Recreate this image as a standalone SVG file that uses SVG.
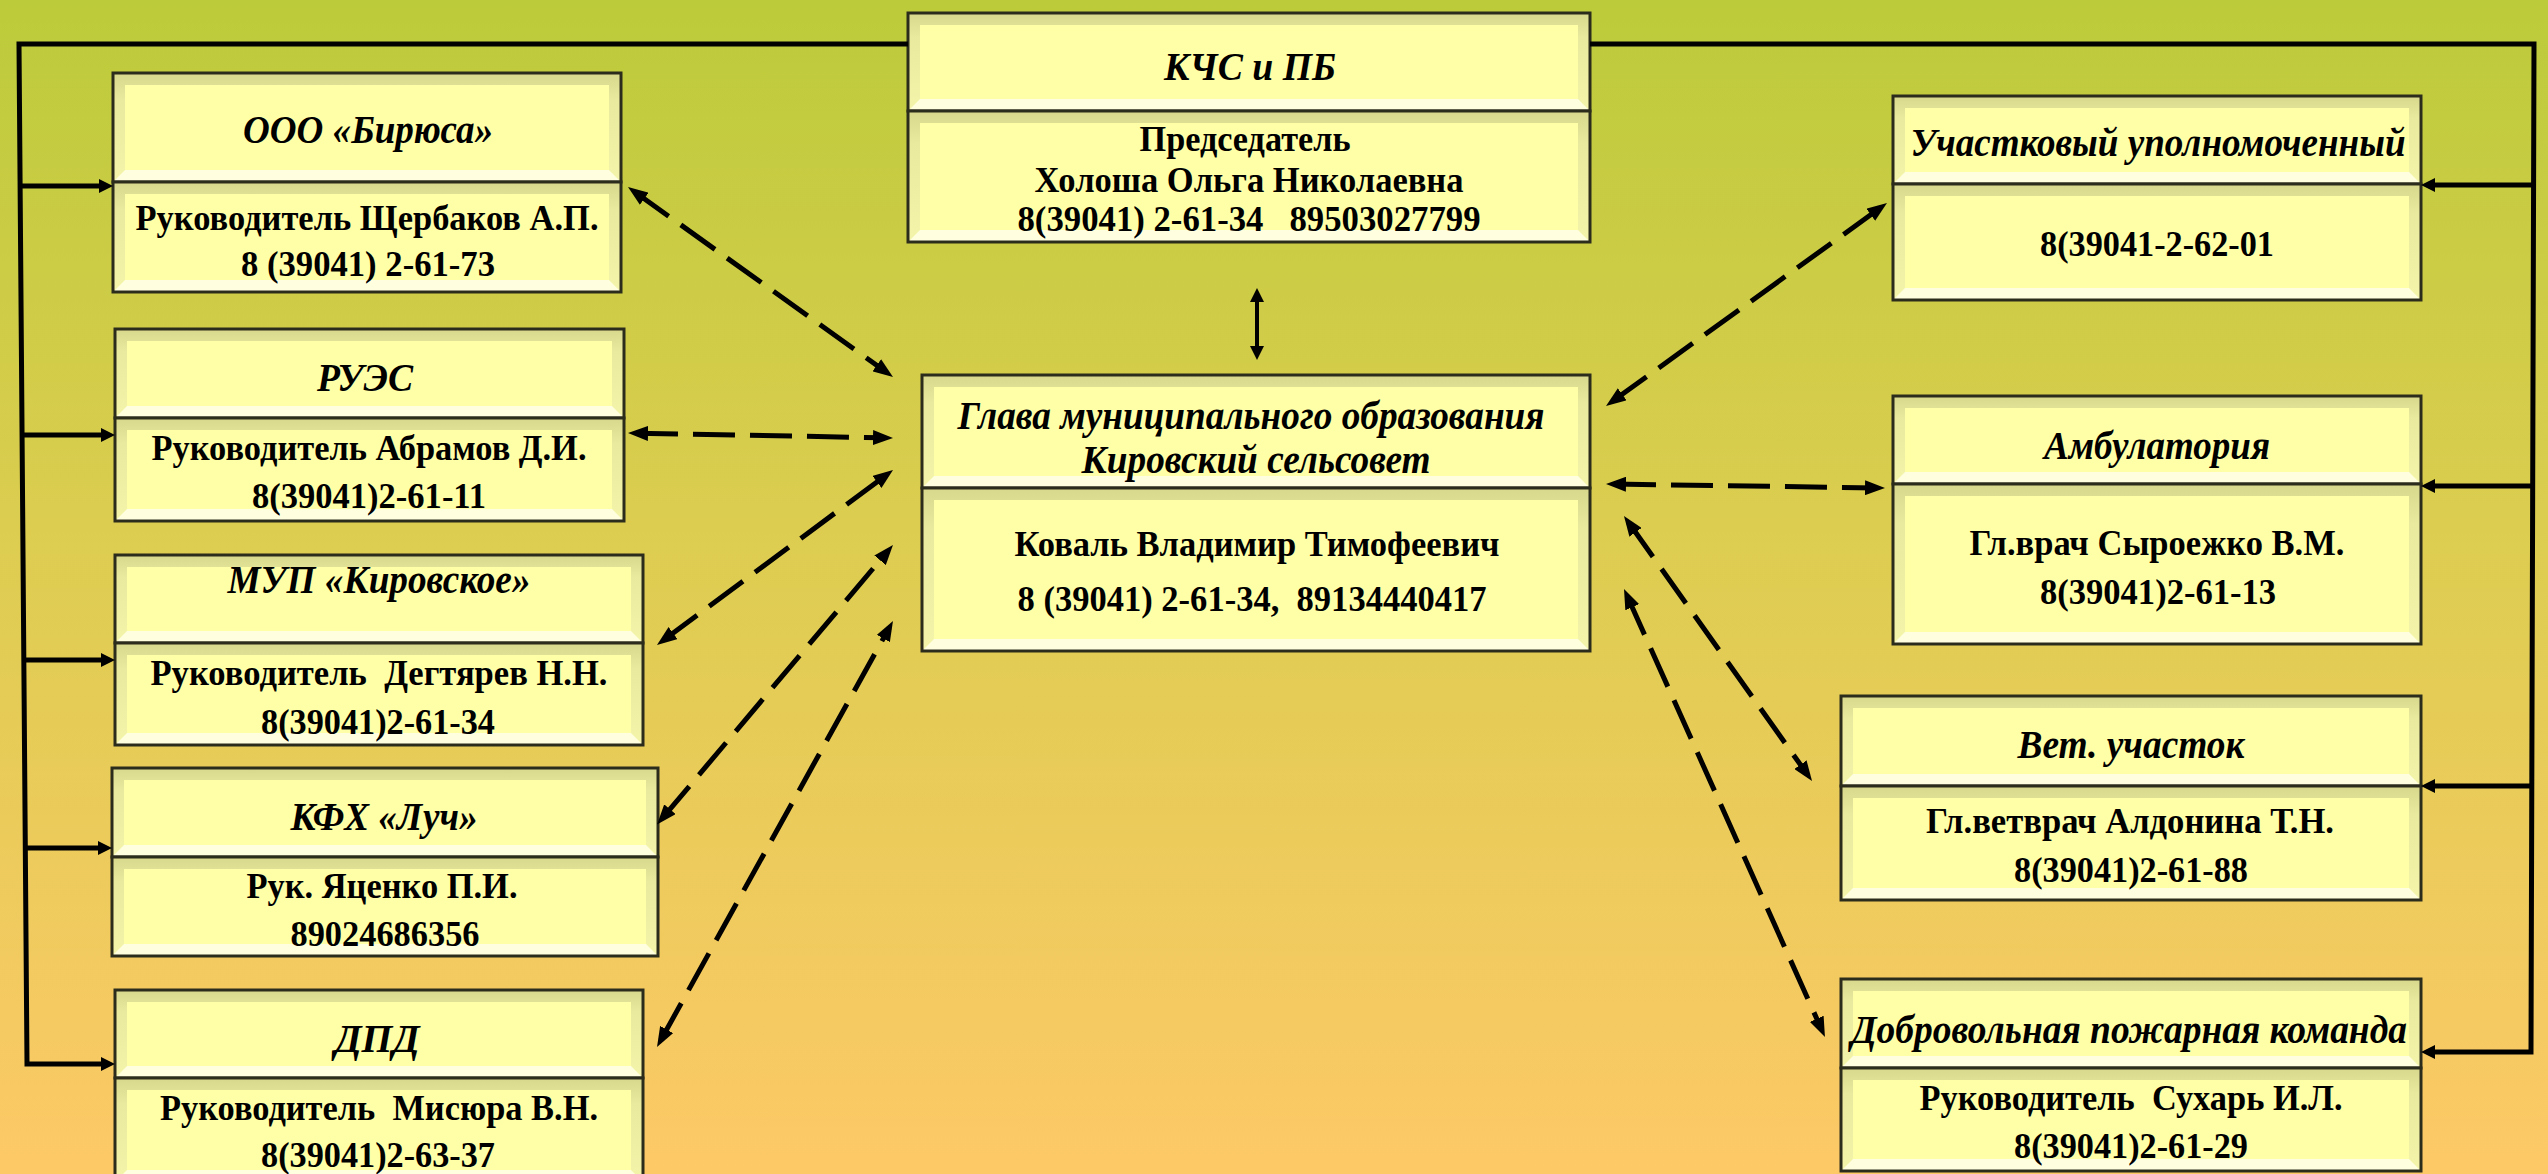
<svg xmlns="http://www.w3.org/2000/svg" width="2548" height="1174" viewBox="0 0 2548 1174">
<defs>
<linearGradient id="bg" x1="0" y1="0" x2="0" y2="1">
<stop offset="0" stop-color="#bccb3a"/>
<stop offset="0.45" stop-color="#dccd50"/>
<stop offset="1" stop-color="#fdc967"/>
</linearGradient>
<linearGradient id="shade" x1="0" y1="0" x2="0" y2="1">
<stop offset="0" stop-color="#d8d88c"/>
<stop offset="0.25" stop-color="#eaea9e"/>
<stop offset="1" stop-color="#f4f4aa"/>
</linearGradient>
<marker id="ah" markerUnits="userSpaceOnUse" markerWidth="14" markerHeight="14" refX="7" refY="7" orient="auto-start-reverse"><path d="M0,0 L14,7 L0,14 z" fill="#000"/></marker>
<marker id="dh" markerUnits="userSpaceOnUse" markerWidth="20" markerHeight="15" refX="12" refY="7.5" orient="auto-start-reverse"><path d="M0,0 L20,7.5 L0,15 z" fill="#000"/></marker>
</defs>
<style>
.lt{fill:#ffffe0}
.dk{fill:url(#shade)}
.ct{fill:#ffffa8}
.bd{fill:none;stroke:#2c2c1c;stroke-width:3}
text{font-family:"Liberation Serif","Times New Roman",serif;font-weight:bold;fill:#000;text-anchor:middle}
.h{font-style:italic;font-size:40px}
.b{font-size:36px}
.solid{fill:none;stroke:#000;stroke-width:5}
.dash{fill:none;stroke:#000;stroke-width:5;stroke-dasharray:42 15}
</style>
<rect x="0" y="0" width="2548" height="1174" fill="url(#bg)"/>

<g id="node-ooo">
<rect class="lt" x="113" y="73" width="508" height="109"/><polygon class="dk" points="113,73 621,73 621,182 609,170 609,85 125,85 125,170 113,182"/><rect class="ct" x="125" y="85" width="484" height="85"/><rect class="bd" x="113" y="73" width="508" height="109"/>
<rect class="lt" x="113" y="182" width="508" height="110"/><polygon class="dk" points="113,182 621,182 621,292 609,280 609,194 125,194 125,280 113,292"/><rect class="ct" x="125" y="194" width="484" height="86"/><rect class="bd" x="113" y="182" width="508" height="110"/>
<text class="h" x="368" y="143" textLength="250" lengthAdjust="spacingAndGlyphs">ООО «Бирюса»</text>
<text class="b" x="367" y="230" textLength="463" lengthAdjust="spacingAndGlyphs">Руководитель Щербаков А.П.</text>
<text class="b" x="368" y="276" textLength="254" lengthAdjust="spacingAndGlyphs">8 (39041) 2-61-73</text>
</g>

<g id="node-rues">
<rect class="lt" x="115" y="329" width="509" height="89"/><polygon class="dk" points="115,329 624,329 624,418 612,406 612,341 127,341 127,406 115,418"/><rect class="ct" x="127" y="341" width="485" height="65"/><rect class="bd" x="115" y="329" width="509" height="89"/>
<rect class="lt" x="115" y="418" width="509" height="103"/><polygon class="dk" points="115,418 624,418 624,521 612,509 612,430 127,430 127,509 115,521"/><rect class="ct" x="127" y="430" width="485" height="79"/><rect class="bd" x="115" y="418" width="509" height="103"/>
<text class="h" x="365" y="391" textLength="96" lengthAdjust="spacingAndGlyphs">РУЭС</text>
<text class="b" x="369" y="460" textLength="435" lengthAdjust="spacingAndGlyphs">Руководитель Абрамов Д.И.</text>
<text class="b" x="369" y="508" textLength="234" lengthAdjust="spacingAndGlyphs">8(39041)2-61-11</text>
</g>

<g id="node-mup">
<rect class="lt" x="115" y="555" width="528" height="88"/><polygon class="dk" points="115,555 643,555 643,643 631,631 631,567 127,567 127,631 115,643"/><rect class="ct" x="127" y="567" width="504" height="64"/><rect class="bd" x="115" y="555" width="528" height="88"/>
<rect class="lt" x="115" y="643" width="528" height="102"/><polygon class="dk" points="115,643 643,643 643,745 631,733 631,655 127,655 127,733 115,745"/><rect class="ct" x="127" y="655" width="504" height="78"/><rect class="bd" x="115" y="643" width="528" height="102"/>
<text class="h" x="379" y="593" textLength="303" lengthAdjust="spacingAndGlyphs">МУП «Кировское»</text>
<text class="b" x="379" y="685" textLength="457" lengthAdjust="spacingAndGlyphs" xml:space="preserve">Руководитель  Дегтярев Н.Н.</text>
<text class="b" x="378" y="734" textLength="234" lengthAdjust="spacingAndGlyphs">8(39041)2-61-34</text>
</g>

<g id="node-kfh">
<rect class="lt" x="112" y="768" width="546" height="89"/><polygon class="dk" points="112,768 658,768 658,857 646,845 646,780 124,780 124,845 112,857"/><rect class="ct" x="124" y="780" width="522" height="65"/><rect class="bd" x="112" y="768" width="546" height="89"/>
<rect class="lt" x="112" y="857" width="546" height="99"/><polygon class="dk" points="112,857 658,857 658,956 646,944 646,869 124,869 124,944 112,956"/><rect class="ct" x="124" y="869" width="522" height="75"/><rect class="bd" x="112" y="857" width="546" height="99"/>
<text class="h" x="384" y="830" textLength="187" lengthAdjust="spacingAndGlyphs">КФХ «Луч»</text>
<text class="b" x="382" y="898" textLength="271" lengthAdjust="spacingAndGlyphs">Рук. Яценко П.И.</text>
<text class="b" x="385" y="946" textLength="189" lengthAdjust="spacingAndGlyphs">89024686356</text>
</g>

<g id="node-dpd">
<rect class="lt" x="115" y="990" width="528" height="88"/><polygon class="dk" points="115,990 643,990 643,1078 631,1066 631,1002 127,1002 127,1066 115,1078"/><rect class="ct" x="127" y="1002" width="504" height="64"/><rect class="bd" x="115" y="990" width="528" height="88"/>
<rect class="lt" x="115" y="1078" width="528" height="104"/><polygon class="dk" points="115,1078 643,1078 643,1182 631,1170 631,1090 127,1090 127,1170 115,1182"/><rect class="ct" x="127" y="1090" width="504" height="80"/><rect class="bd" x="115" y="1078" width="528" height="104"/>
<text class="h" x="377" y="1052" textLength="85" lengthAdjust="spacingAndGlyphs">ДПД</text>
<text class="b" x="379" y="1120" textLength="438" lengthAdjust="spacingAndGlyphs" xml:space="preserve">Руководитель  Мисюра В.Н.</text>
<text class="b" x="378" y="1167" textLength="234" lengthAdjust="spacingAndGlyphs">8(39041)2-63-37</text>
</g>

<g id="node-kchs">
<rect class="lt" x="908" y="13" width="682" height="98"/><polygon class="dk" points="908,13 1590,13 1590,111 1578,99 1578,25 920,25 920,99 908,111"/><rect class="ct" x="920" y="25" width="658" height="74"/><rect class="bd" x="908" y="13" width="682" height="98"/>
<rect class="lt" x="908" y="111" width="682" height="131"/><polygon class="dk" points="908,111 1590,111 1590,242 1578,230 1578,123 920,123 920,230 908,242"/><rect class="ct" x="920" y="123" width="658" height="107"/><rect class="bd" x="908" y="111" width="682" height="131"/>
<text class="h" x="1250" y="80" textLength="172" lengthAdjust="spacingAndGlyphs">КЧС и ПБ</text>
<text class="b" x="1245" y="151" textLength="211" lengthAdjust="spacingAndGlyphs">Председатель</text>
<text class="b" x="1249" y="192" textLength="429" lengthAdjust="spacingAndGlyphs">Холоша Ольга Николаевна</text>
<text class="b" x="1249" y="231" textLength="463" lengthAdjust="spacingAndGlyphs" xml:space="preserve">8(39041) 2-61-34   89503027799</text>
</g>

<g id="node-glava">
<rect class="lt" x="922" y="375" width="668" height="113"/><polygon class="dk" points="922,375 1590,375 1590,488 1578,476 1578,387 934,387 934,476 922,488"/><rect class="ct" x="934" y="387" width="644" height="89"/><rect class="bd" x="922" y="375" width="668" height="113"/>
<rect class="lt" x="922" y="488" width="668" height="163"/><polygon class="dk" points="922,488 1590,488 1590,651 1578,639 1578,500 934,500 934,639 922,651"/><rect class="ct" x="934" y="500" width="644" height="139"/><rect class="bd" x="922" y="488" width="668" height="163"/>
<text class="h" x="1251" y="429" textLength="587" lengthAdjust="spacingAndGlyphs">Глава муниципального образования</text>
<text class="h" x="1256" y="473" textLength="349" lengthAdjust="spacingAndGlyphs">Кировский сельсовет</text>
<text class="b" x="1257" y="556" textLength="485" lengthAdjust="spacingAndGlyphs">Коваль Владимир Тимофеевич</text>
<text class="b" x="1252" y="611" textLength="469" lengthAdjust="spacingAndGlyphs" xml:space="preserve">8 (39041) 2-61-34,  89134440417</text>
</g>

<g id="node-uchastkovy">
<rect class="lt" x="1893" y="96" width="528" height="88"/><polygon class="dk" points="1893,96 2421,96 2421,184 2409,172 2409,108 1905,108 1905,172 1893,184"/><rect class="ct" x="1905" y="108" width="504" height="64"/><rect class="bd" x="1893" y="96" width="528" height="88"/>
<rect class="lt" x="1893" y="184" width="528" height="116"/><polygon class="dk" points="1893,184 2421,184 2421,300 2409,288 2409,196 1905,196 1905,288 1893,300"/><rect class="ct" x="1905" y="196" width="504" height="92"/><rect class="bd" x="1893" y="184" width="528" height="116"/>
<text class="h" x="2158" y="156" textLength="495" lengthAdjust="spacingAndGlyphs">Участковый уполномоченный</text>
<text class="b" x="2157" y="256" textLength="234" lengthAdjust="spacingAndGlyphs">8(39041-2-62-01</text>
</g>

<g id="node-ambulatoria">
<rect class="lt" x="1893" y="396" width="528" height="88"/><polygon class="dk" points="1893,396 2421,396 2421,484 2409,472 2409,408 1905,408 1905,472 1893,484"/><rect class="ct" x="1905" y="408" width="504" height="64"/><rect class="bd" x="1893" y="396" width="528" height="88"/>
<rect class="lt" x="1893" y="484" width="528" height="160"/><polygon class="dk" points="1893,484 2421,484 2421,644 2409,632 2409,496 1905,496 1905,632 1893,644"/><rect class="ct" x="1905" y="496" width="504" height="136"/><rect class="bd" x="1893" y="484" width="528" height="160"/>
<text class="h" x="2157" y="459" textLength="226" lengthAdjust="spacingAndGlyphs">Амбулатория</text>
<text class="b" x="2157" y="555" textLength="375" lengthAdjust="spacingAndGlyphs">Гл.врач Сыроежко В.М.</text>
<text class="b" x="2158" y="604" textLength="236" lengthAdjust="spacingAndGlyphs">8(39041)2-61-13</text>
</g>

<g id="node-vet">
<rect class="lt" x="1841" y="696" width="580" height="90"/><polygon class="dk" points="1841,696 2421,696 2421,786 2409,774 2409,708 1853,708 1853,774 1841,786"/><rect class="ct" x="1853" y="708" width="556" height="66"/><rect class="bd" x="1841" y="696" width="580" height="90"/>
<rect class="lt" x="1841" y="786" width="580" height="114"/><polygon class="dk" points="1841,786 2421,786 2421,900 2409,888 2409,798 1853,798 1853,888 1841,900"/><rect class="ct" x="1853" y="798" width="556" height="90"/><rect class="bd" x="1841" y="786" width="580" height="114"/>
<text class="h" x="2131" y="758" textLength="227" lengthAdjust="spacingAndGlyphs">Вет. участок</text>
<text class="b" x="2130" y="833" textLength="408" lengthAdjust="spacingAndGlyphs">Гл.ветврач Алдонина Т.Н.</text>
<text class="b" x="2131" y="882" textLength="234" lengthAdjust="spacingAndGlyphs">8(39041)2-61-88</text>
</g>

<g id="node-dpk">
<rect class="lt" x="1841" y="979" width="580" height="89"/><polygon class="dk" points="1841,979 2421,979 2421,1068 2409,1056 2409,991 1853,991 1853,1056 1841,1068"/><rect class="ct" x="1853" y="991" width="556" height="65"/><rect class="bd" x="1841" y="979" width="580" height="89"/>
<rect class="lt" x="1841" y="1068" width="580" height="103"/><polygon class="dk" points="1841,1068 2421,1068 2421,1171 2409,1159 2409,1080 1853,1080 1853,1159 1841,1171"/><rect class="ct" x="1853" y="1080" width="556" height="79"/><rect class="bd" x="1841" y="1068" width="580" height="103"/>
<text class="h" x="2129" y="1043" textLength="556" lengthAdjust="spacingAndGlyphs">Добровольная пожарная команда</text>
<text class="b" x="2131" y="1110" textLength="423" lengthAdjust="spacingAndGlyphs" xml:space="preserve">Руководитель  Сухарь И.Л.</text>
<text class="b" x="2131" y="1158" textLength="234" lengthAdjust="spacingAndGlyphs">8(39041)2-61-29</text>
</g>

<g id="connectors">
<path class="solid" d="M908,44 H19 L27,1064 H108" marker-end="url(#ah)"/>
<path class="solid" d="M20,186 H106" marker-end="url(#ah)"/>
<path class="solid" d="M22,435 H108" marker-end="url(#ah)"/>
<path class="solid" d="M24,660 H108" marker-end="url(#ah)"/>
<path class="solid" d="M25,848 H105" marker-end="url(#ah)"/>
<path class="solid" d="M1590,44 H2534 L2531,1052 H2428" marker-end="url(#ah)"/>
<path class="solid" d="M2534,185 H2428" marker-end="url(#ah)"/>
<path class="solid" d="M2533,486 H2428" marker-end="url(#ah)"/>
<path class="solid" d="M2532,786 H2428" marker-end="url(#ah)"/>
<path class="solid" style="stroke-width:4" d="M1257,295 V353" marker-start="url(#ah)" marker-end="url(#ah)"/>
<path class="dash" d="M634.5,191.7 L886.5,372.3" marker-start="url(#dh)" marker-end="url(#dh)"/>
<path class="dash" d="M636,433.2 L885,437.8" marker-start="url(#dh)" marker-end="url(#dh)"/>
<path class="dash" d="M663.4,640.2 L886.6,474.8" marker-start="url(#dh)" marker-end="url(#dh)"/>
<path class="dash" d="M662.2,818.4 L887.8,551.1" marker-start="url(#dh)" marker-end="url(#dh)"/>
<path class="dash" d="M660.9,1040 L889.1,628" marker-start="url(#dh)" marker-end="url(#dh)"/>
<path class="dash" d="M1612.5,401.3 L1880.5,207.7" marker-start="url(#dh)" marker-end="url(#dh)"/>
<path class="dash" d="M1614,484.1 L1877,487.9" marker-start="url(#dh)" marker-end="url(#dh)"/>
<path class="dash" d="M1628.6,522.5 L1807.4,774.5" marker-start="url(#dh)" marker-end="url(#dh)"/>
<path class="dash" d="M1627.3,596.3 L1821.7,1029.7" marker-start="url(#dh)" marker-end="url(#dh)"/>
</g>
</svg>
